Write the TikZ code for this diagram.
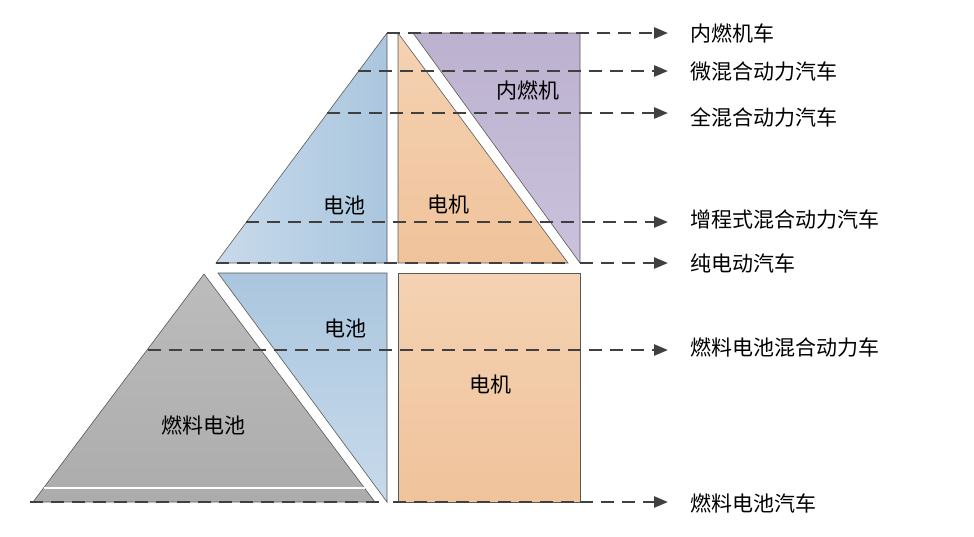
\documentclass[tikz,border=0pt]{standalone}
\usepackage{fontspec}
\setmainfont{Noto Sans CJK SC}
\usetikzlibrary{arrows.meta}
\definecolor{dline}{RGB}{64,64,64}
\definecolor{bluA}{RGB}{170,198,222}
\definecolor{bluB}{RGB}{200,218,235}
\definecolor{orA}{RGB}{244,210,178}
\definecolor{orB}{RGB}{240,195,155}
\definecolor{puA}{RGB}{188,178,208}
\definecolor{puB}{RGB}{202,194,220}
\definecolor{grA}{RGB}{188,188,188}
\definecolor{grB}{RGB}{172,172,172}
\tikzset{
  part/.style={draw=black!65, line width=0.6pt},
  dl/.style={draw=dline, line width=2.6pt, dash pattern=on 13pt off 8pt},
  da/.style={dl, -{Triangle[length=14pt,width=11pt]}},
  lab/.style={anchor=west, font=\fontsize{21}{24}\selectfont, inner sep=0pt},
  inl/.style={font=\fontsize{21}{24}\selectfont, inner sep=0pt}
}
\begin{document}
\begin{tikzpicture}[x=1pt,y=-1pt]
\useasboundingbox (0,0) rectangle (974,536);
% top section
\path[part, left color=bluB, right color=bluA] (387,33) -- (216,263) -- (387,263) -- cycle;
\path[part, top color=orA, bottom color=orB] (398,33) -- (398,263) -- (568,263) -- cycle;
\path[part, top color=puA, bottom color=puB] (413,33) -- (580,33) -- (580,263) -- cycle;
% bottom section
\path[part, top color=grA, bottom color=grB] (204,274) -- (33,502) -- (375,502) -- cycle;
\draw[white, line width=1.2pt] (44,488) -- (365,488);
\path[part, top color=bluA, bottom color=bluB] (218,273) -- (387,273) -- (387,502) -- cycle;
\path[part, top color=orA, bottom color=orB] (398,273) rectangle (580,502);
% inner labels
\node[inl] (ice) at (528,90) {内燃机};
\node[inl] (bat1) at (344,205) {电池};
\node[inl] (mot1) at (448,205) {电机};
\node[inl] (bat2) at (345,328) {电池};
\node[inl] (mot2) at (490,385) {电机};
\node[inl] (fc) at (203,425) {燃料电池};
% right labels
\node[lab] (l1) at (690,33) {内燃机车};
\node[lab] (l2) at (690,72) {微混合动力汽车};
\node[lab] (l3) at (690,117) {全混合动力汽车};
\node[lab] (l4) at (690,220) {增程式混合动力汽车};
\node[lab] (l5) at (690,263) {纯电动汽车};
\node[lab] (l6) at (690,348) {燃料电池混合动力车};
\node[lab] (l7) at (690,503) {燃料电池汽车};
% start coordinates
\coordinate (s1) at (387,33);
\coordinate (s2) at (358,71);
\coordinate (s3) at (327,113);
\coordinate (s4) at (246,222);
\coordinate (s5) at (216,263);
\coordinate (s5b) at (568,263);
\coordinate (s5c) at (580,263);
\coordinate (s6) at (148,350);
\coordinate (s7) at (30,502);
\coordinate (s7b) at (387,502);
\coordinate (s7c) at (393,502);
\coordinate (s7d) at (580,502);
% connectors
\draw[da] (s1) -- ([xshift=-22pt]l1.west |- s1);
\draw[da] (s2) -- ([xshift=-22pt]l2.west |- s2);
\draw[da] (s3) -- ([xshift=-22pt]l3.west |- s3);
\draw[da] (s4) -- ([xshift=-22pt]l4.west |- s4);
\draw[dl] (s5) -- (s5b);
\draw[da] (s5c) -- ([xshift=-22pt]l5.west |- s5c);
\draw[da] (s6) -- ([xshift=-22pt]l6.west |- s6);
\draw[dl] (s7) -- (s7b);
\draw[dl] (s7c) -- (s7d);
\draw[da] (s7d) -- ([xshift=-22pt]l7.west |- s7d);
\end{tikzpicture}
\end{document}
